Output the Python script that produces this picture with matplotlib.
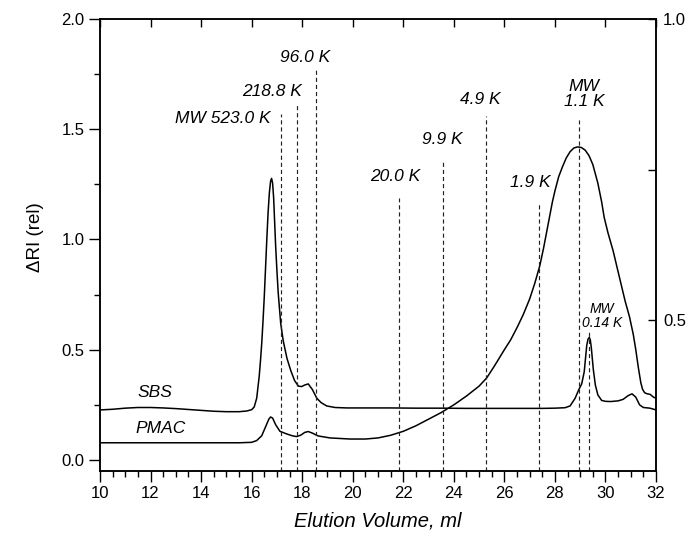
import matplotlib
matplotlib.use("Agg")
import matplotlib.pyplot as plt
from matplotlib.ticker import MultipleLocator, FixedLocator

plt.rcParams['font.family'] = ['Liberation Sans', 'DejaVu Sans']

# ---- data ----
sbs_x = [10, 10.5, 11, 11.5, 12, 12.5, 13, 13.5, 14, 14.5, 15, 15.5, 15.8, 16.0, 16.1, 16.2,
         16.3, 16.35, 16.4, 16.45, 16.5, 16.55, 16.6, 16.65, 16.7, 16.75, 16.79, 16.83, 16.87,
         16.91, 16.95, 17.0, 17.05, 17.15, 17.25, 17.4, 17.55,
         17.7, 17.85, 17.98, 18.1, 18.24, 18.4, 18.58, 18.75, 18.97, 19.3, 19.76, 20.5, 21.5,
         22.5, 23.5, 24.5, 25.5, 26.5, 27.5, 28.0, 28.4, 28.6, 28.8, 28.95, 29.06, 29.16, 29.26,
         29.31, 29.36, 29.4, 29.44, 29.52, 29.6, 29.7, 29.85, 30.0, 30.2, 30.5, 30.7, 30.9,
         31.05, 31.2, 31.35, 31.5, 31.76, 32.0]
sbs_y = [0.227, 0.230, 0.235, 0.238, 0.238, 0.236, 0.233, 0.229, 0.225, 0.221, 0.219, 0.219,
         0.222, 0.228, 0.240, 0.280, 0.380, 0.450, 0.530, 0.630, 0.740, 0.870, 1.000, 1.120,
         1.210, 1.265, 1.277, 1.255, 1.190, 1.080, 0.970, 0.860, 0.760, 0.620, 0.540, 0.460,
         0.405, 0.360, 0.335, 0.333, 0.340, 0.345, 0.320, 0.280,
         0.260, 0.245, 0.238, 0.236, 0.236, 0.236, 0.235, 0.235, 0.234, 0.234, 0.234, 0.234,
         0.235, 0.237, 0.245, 0.280, 0.320, 0.345, 0.400, 0.520, 0.548, 0.556, 0.545, 0.510,
         0.410, 0.340, 0.295, 0.270, 0.266, 0.265, 0.268, 0.275, 0.292, 0.300, 0.285, 0.250,
         0.238, 0.235, 0.227]

pmac_x = [10, 12, 14, 15.5, 16.0, 16.2, 16.4, 16.55, 16.68, 16.75, 16.83, 16.95, 17.12, 17.39,
          17.6, 17.78, 17.95, 18.1, 18.24, 18.4, 18.63, 19.1, 19.9, 20.5, 21.0, 21.5, 22.0,
          22.5, 23.0, 23.5, 24.0, 24.5, 25.0, 25.3, 25.6, 26.0, 26.25, 26.5, 26.75, 27.0, 27.2,
          27.4, 27.55, 27.75, 27.9, 28.0, 28.15, 28.3, 28.45, 28.6, 28.75, 28.9, 29.05, 29.2,
          29.35, 29.5, 29.7, 29.85, 29.95, 30.1, 30.3, 30.55, 30.78, 30.95, 31.1, 31.2, 31.3,
          31.4, 31.47, 31.55, 31.65, 31.76, 31.9, 32.0]
pmac_y = [0.078, 0.078, 0.078, 0.078, 0.080, 0.088, 0.110, 0.150, 0.185, 0.195, 0.190, 0.160,
          0.130, 0.118, 0.110, 0.106, 0.113, 0.125, 0.129, 0.122, 0.109, 0.100, 0.095, 0.095,
          0.100, 0.112, 0.130, 0.155, 0.185, 0.215, 0.250, 0.290, 0.335, 0.372, 0.425, 0.500,
          0.545, 0.600, 0.660, 0.730, 0.800, 0.880, 0.960, 1.080, 1.170, 1.220, 1.285, 1.330,
          1.370, 1.398, 1.415, 1.420, 1.417, 1.405, 1.380, 1.340, 1.255, 1.170, 1.100, 1.030,
          0.950, 0.830, 0.720, 0.650, 0.570, 0.500, 0.420, 0.350, 0.320, 0.305, 0.300, 0.298,
          0.285, 0.280]

mw_pos = [17.16, 17.80, 18.56, 21.84, 23.59, 25.28, 27.39, 28.95, 29.36]
mw_top = [1.57, 1.61, 1.78, 1.19, 1.36, 1.56, 1.16, 1.54, 0.59]

mw_labels = ["MW 523.0 K", "218.8 K", "96.0 K", "20.0 K", "9.9 K", "4.9 K", "1.9 K",
             "MW\n1.1 K", "MW\n0.14 K"]
mw_label_x = [14.87, 16.81, 18.11, 21.67, 23.53, 25.05, 27.02, 29.15, 29.87]
mw_label_y = [1.55, 1.673, 1.827, 1.286, 1.455, 1.636, 1.259, 1.66, 0.655]
mw_label_size = [12.5, 12.5, 12.5, 12.5, 12.5, 12.5, 12.5, 12.5, 10]

series_names = ["SBS", "PMAC"]
series_label_x = [11.5, 11.4]
series_label_y = [0.305, 0.143]

x_ticks = [10, 12, 14, 16, 18, 20, 22, 24, 26, 28, 30, 32]
y_ticks = [0.0, 0.5, 1.0, 1.5, 2.0]
y2_ticks = [0.5, 0.75, 1.0]
y2_ticklabels = ["0.5", "", "1.0"]

# ---- figure ----
fig = plt.figure(figsize=(6.91, 5.37), dpi=100)
ax = fig.add_axes([100/691, 1 - 471/537, 556/691, 452/537])

ax.plot(sbs_x, sbs_y, color='black', lw=1.1)
ax.plot(pmac_x, pmac_y, color='black', lw=1.1)

ax.vlines(mw_pos, -0.05, mw_top, colors='#222222', linestyles=(0, (3.5, 2.5)), lw=0.85)

for t, x, y, s in zip(mw_labels, mw_label_x, mw_label_y, mw_label_size):
    ax.text(x, y, t, ha='center', va='center', fontsize=s, style='italic',
            linespacing=1.0)

for t, x, y in zip(series_names, series_label_x, series_label_y):
    ax.text(x, y, t, ha='left', va='center', fontsize=12.5, style='italic')

ax.set_xlim(10, 32)
ax.set_ylim(-0.05, 2.0)
ax.set_xticks(x_ticks)
ax.set_yticks(y_ticks)
ax.set_yticklabels([f"{v:.1f}" for v in y_ticks])
ax.xaxis.set_minor_locator(MultipleLocator(0.5))
ax.yaxis.set_minor_locator(MultipleLocator(0.25))
ax.tick_params(axis='x', which='major', direction='out', length=8, width=1.0,
               labelsize=12, pad=3, top=False)
ax.tick_params(axis='x', which='minor', direction='out', length=4.5, width=1.0, top=False)
ax.tick_params(axis='y', which='major', direction='out', length=8, width=1.0,
               labelsize=12, pad=3, right=False)
ax.tick_params(axis='y', which='minor', direction='out', length=4.5, width=1.0, right=False)
for sp in ax.spines.values():
    sp.set_linewidth(1.1)

# top axis: major ticks pointing in, no labels
axt = ax.secondary_xaxis('top')
axt.set_xticks(x_ticks)
axt.tick_params(direction='in', length=6, width=1.0, labeltop=False)
axt.spines['top'].set_visible(False)

# right axis
ax2 = ax.twinx()
ax2.set_ylim(0.25, 1.0)
ax2.yaxis.set_major_locator(FixedLocator(y2_ticks))
ax2.set_yticklabels(y2_ticklabels)
ax2.tick_params(axis='y', direction='in', length=6, width=1.0, labelsize=12, pad=5)
for sp in ax2.spines.values():
    sp.set_linewidth(1.1)

fig.text(35/691, 1 - 237/537, "ΔRI (rel)", rotation=90, ha='center', va='center',
         fontsize=13.5)
fig.text(378/691, 1 - 521/537, "Elution Volume, ml", ha='center', va='center',
         fontsize=14.5, style='italic')

fig.savefig("out.png", dpi=100)
